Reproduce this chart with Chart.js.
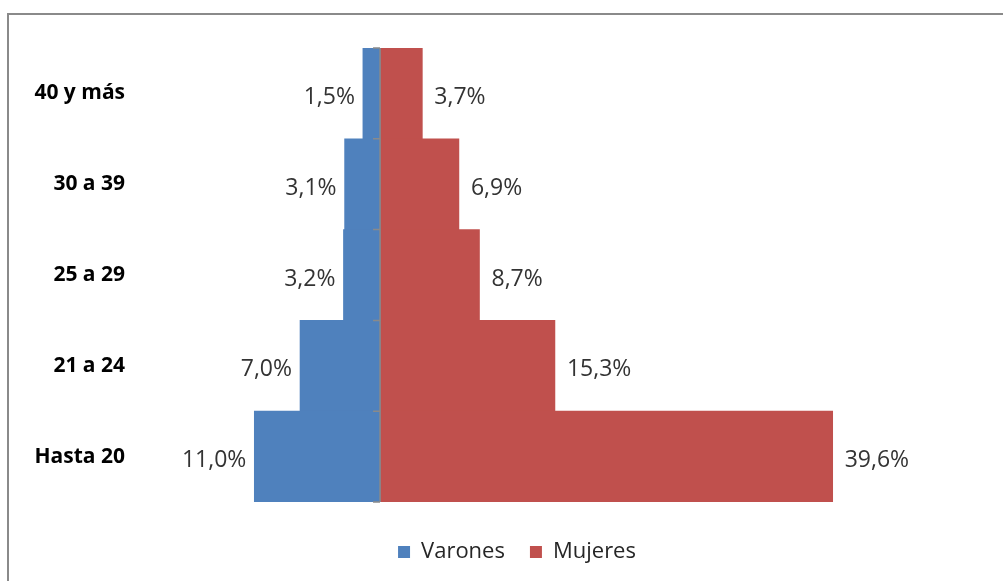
<!DOCTYPE html>
<html>
<head>
<meta charset="utf-8">
<script src="https://cdn.jsdelivr.net/npm/chart.js@4"></script>
<style>
  html, body { margin: 0; padding: 0; background: #fff; overflow: hidden; }
  #wrap { position: relative; width: 1003px; height: 581px; }
  #frame { position: absolute; left: 7px; top: 13px; width: 1100px; height: 700px; border: 2px solid #8a8a8a; box-sizing: border-box; }
  canvas { position: absolute; left: 0; top: 0; }
</style>
</head>
<body>
<div id="wrap">
  <div id="frame"></div>
  <canvas id="c" width="1003" height="581"></canvas>
</div>
<script>
const categories = ['40 y más', '30 a 39', '25 a 29', '21 a 24', 'Hasta 20'];
const varones = [1.5, 3.1, 3.2, 7.0, 11.0];
const mujeres = [3.7, 6.9, 8.7, 15.3, 39.6];
const seriesNames = ['Varones', 'Mujeres'];

const fmt = v => Math.abs(v).toFixed(1).replace('.', ',') + '%';

const labelPlugin = {
  id: 'valueLabels',
  afterDatasetsDraw(chart) {
    const ctx = chart.ctx;
    ctx.save();
    ctx.font = '23px "Open Sans"';
    ctx.fillStyle = '#333333';
    ctx.textBaseline = 'middle';
    chart.data.datasets.forEach((ds, di) => {
      const meta = chart.getDatasetMeta(di);
      meta.data.forEach((el, i) => {
        const v = ds.data[i];
        if (v < 0) {
          ctx.textAlign = 'right';
          ctx.fillText(fmt(v), el.x - 8, el.y + 4);
        } else {
          ctx.textAlign = 'left';
          ctx.fillText(fmt(v), el.x + 12, el.y + 4);
        }
      });
    });
    ctx.restore();
  }
};

const axisTicksPlugin = {
  id: 'centerTicks',
  afterDatasetsDraw(chart) {
    const ctx = chart.ctx;
    const xs = chart.scales.x, ys = chart.scales.y;
    const x0 = xs.getPixelForValue(0);
    ctx.save();
    ctx.strokeStyle = '#8a8a8a';
    ctx.lineWidth = 1.5;
    ctx.beginPath();
    ctx.moveTo(x0, ys.top);
    ctx.lineTo(x0, ys.bottom);
    for (let i = 0; i <= categories.length; i++) {
      const y = ys.top + (ys.bottom - ys.top) * i / categories.length;
      ctx.moveTo(x0 - 7, y);
      ctx.lineTo(x0, y);
    }
    ctx.stroke();
    ctx.restore();
  }
};

new Chart(document.getElementById('c'), {
  type: 'bar',
  data: {
    labels: categories,
    datasets: [
      { label: seriesNames[0], data: varones.map(v => -v), backgroundColor: '#4F81BD', borderWidth: 0 },
      { label: seriesNames[1], data: mujeres, backgroundColor: '#C0504D', borderWidth: 0 }
    ]
  },
  plugins: [axisTicksPlugin, labelPlugin],
  options: {
    indexAxis: 'y',
    responsive: false,
    animation: false,
    barPercentage: 1,
    categoryPercentage: 1,
    layout: { padding: { top: 48, left: 31, right: 0, bottom: 8 } },
    scales: {
      x: {
        stacked: true,
        min: -21,
        max: 54.5,
        ticks: { display: false },
        grid: { display: false, drawTicks: false },
        border: { display: false },
        afterFit(scale) { scale.height = 14; }
      },
      y: {
        stacked: true,
        grid: { display: false, drawTicks: false },
        border: { display: false },
        ticks: {
          padding: 15,
          color: '#000000',
          font: { family: '"Open Sans"', size: 21, weight: 'bold' }
        },
        afterFit(scale) { scale.width = 109; }
      }
    },
    plugins: {
      legend: {
        position: 'bottom',
        labels: {
          boxWidth: 12,
          boxHeight: 12,
          padding: 25,
          color: '#262626',
          font: { family: '"Open Sans"', size: 22 }
        }
      },
      tooltip: { enabled: false }
    }
  }
});
</script>
</body>
</html>
